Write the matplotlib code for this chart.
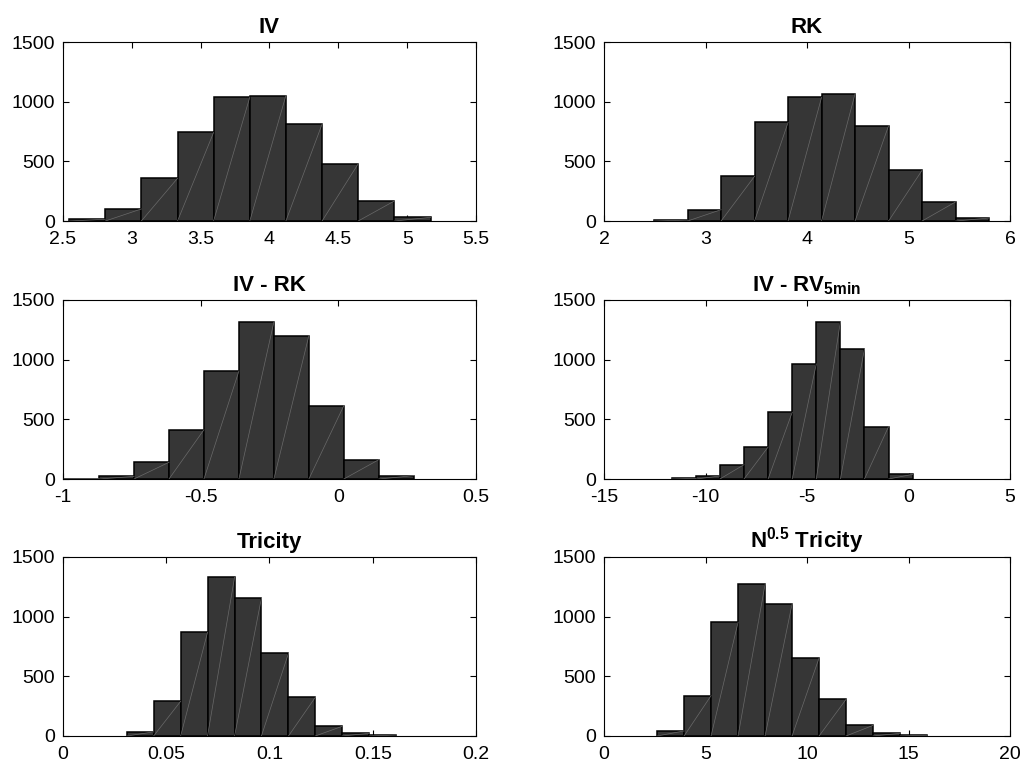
import numpy as np
import matplotlib
matplotlib.use('Agg')
import matplotlib.pyplot as plt

plt.rcParams['font.family'] = ['Liberation Sans', 'DejaVu Sans']
plt.rcParams['mathtext.fontset'] = 'custom'
plt.rcParams['mathtext.rm'] = 'Liberation Sans:bold'
plt.rcParams['mathtext.bf'] = 'Liberation Sans:bold'
plt.rcParams['mathtext.it'] = 'Liberation Sans:bold'

# bin edges and counts
iv_edges = [2.544, 2.807, 3.069, 3.332, 3.594, 3.857, 4.119, 4.382, 4.644, 4.907, 5.170]
iv_counts = [15, 101, 358, 742, 1038, 1050, 812, 479, 168, 31]

rk_edges = [2.493, 2.823, 3.153, 3.483, 3.813, 4.143, 4.473, 4.803, 5.133, 5.463, 5.793]
rk_counts = [8, 95, 375, 826, 1036, 1066, 798, 425, 160, 25]

ivrk_edges = [-0.996, -0.869, -0.742, -0.615, -0.488, -0.361, -0.234, -0.107, 0.020, 0.147, 0.274]
ivrk_counts = [2, 22, 140, 413, 905, 1316, 1201, 615, 162, 28]

ivrv_edges = [-11.664, -10.477, -9.291, -8.104, -6.918, -5.731, -4.545, -3.358, -2.172, -0.985, 0.201]
ivrv_counts = [5, 25, 120, 268, 559, 964, 1318, 1089, 439, 39]

tri_edges = [0.0309, 0.0439, 0.0570, 0.0700, 0.0831, 0.0961, 0.1092, 0.1222, 0.1352, 0.1483, 0.1613]
tri_counts = [34, 291, 869, 1330, 1156, 693, 324, 81, 22, 8]

ntri_edges = [2.613, 3.943, 5.273, 6.603, 7.933, 9.263, 10.593, 11.923, 13.253, 14.583, 15.913]
ntri_counts = [42, 338, 953, 1271, 1106, 654, 307, 89, 22, 6]

titles = ['IV', 'RK', 'IV - RK', r'IV - RV$_{\mathrm{5min}}$', 'Tricity', r'N$^{\mathrm{0.5}}$ Tricity']
xlims = [(2.5, 5.5), (2, 6), (-1, 0.5), (-15, 5), (0, 0.2), (0, 20)]
xticks = [[2.5, 3, 3.5, 4, 4.5, 5, 5.5], [2, 3, 4, 5, 6], [-1, -0.5, 0, 0.5],
          [-15, -10, -5, 0, 5], [0, 0.05, 0.1, 0.15, 0.2], [0, 5, 10, 15, 20]]
xticklabels = [['2.5', '3', '3.5', '4', '4.5', '5', '5.5'], ['2', '3', '4', '5', '6'],
               ['-1', '-0.5', '0', '0.5'], ['-15', '-10', '-5', '0', '5'],
               ['0', '0.05', '0.1', '0.15', '0.2'], ['0', '5', '10', '15', '20']]
all_edges = [iv_edges, rk_edges, ivrk_edges, ivrv_edges, tri_edges, ntri_edges]
all_counts = [iv_counts, rk_counts, ivrk_counts, ivrv_counts, tri_counts, ntri_counts]

fig = plt.figure(figsize=(10.29, 7.68), dpi=100)

col_x = [(0.0612, 0.4014), (0.587, 0.3946)]
row_y = [0.7122, 0.3763, 0.0417]
h = 0.2331

for i in range(6):
    r, c = i // 2, i % 2
    ax = fig.add_axes([col_x[c][0], row_y[r], col_x[c][1], h])
    edges = np.array(all_edges[i])
    counts = np.array(all_counts[i])
    ax.bar(edges[:-1], counts, width=np.diff(edges), align='edge',
           color='#363636', edgecolor='black', linewidth=1.1, zorder=2)
    # faint diagonal lines inside each bar (rendering artifact in the original)
    for left, right, cnt in zip(edges[:-1], edges[1:], counts):
        ax.plot([left, right], [0, cnt], color='#6a6a6a', linewidth=0.5, zorder=3)
    ax.set_xlim(xlims[i])
    ax.set_ylim(0, 1500)
    ax.set_xticks(xticks[i])
    ax.set_xticklabels(xticklabels[i])
    ax.set_yticks([0, 500, 1000, 1500])
    ax.tick_params(direction='in', top=True, right=True, length=4, width=0.8,
                   labelsize=14)
    ax.tick_params(axis='x', pad=7)
    ax.tick_params(axis='y', pad=6)
    for sp in ax.spines.values():
        sp.set_linewidth(0.8)
    ax.set_title(titles[i], fontsize=16, fontweight='bold', pad=6.5)

fig.savefig('out.png', dpi=100)
